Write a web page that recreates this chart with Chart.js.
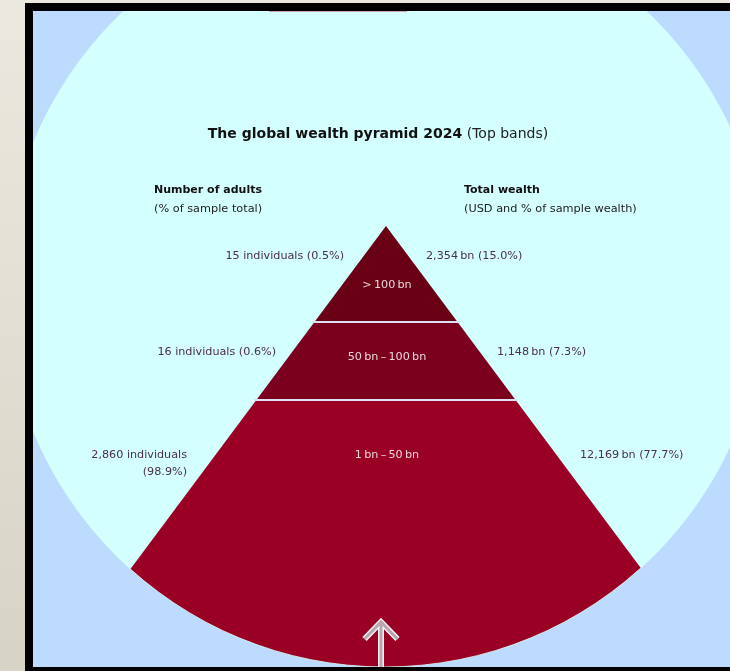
<!DOCTYPE html>
<html>
<head>
<meta charset="utf-8">
<title>The global wealth pyramid 2024</title>
<script src="https://cdn.jsdelivr.net/npm/chart.js@4.4.1/dist/chart.umd.min.js"></script>
<style>
  html, body { margin: 0; padding: 0; width: 730px; height: 671px; overflow: hidden; }
  body { background: linear-gradient(#ebe8df, #d7d4c6); position: relative; }
  #frame { position: absolute; left: 25px; top: 3px; width: 760px; height: 700px; background: #000; }
  #plot { position: absolute; left: 33px; top: 11px; width: 697px; height: 656px; background: #bddaff; }
  #rule { position: absolute; left: 269px; top: 11px; width: 138px; height: 1px; background: #c9a2b3; }
</style>
</head>
<body>
<div id="frame"></div>
<div id="plot"><canvas id="pyramid"></canvas></div>
<div id="rule"></div>
<script>
// Wealth bands, from the top of the pyramid down
const bands = ['>\u2009100\u2009bn', '50\u2009bn\u2009\u2013\u2009100\u2009bn', '1\u2009bn\u2009\u2013\u200950\u2009bn'];
// Number of adults in each band and share of the sample total (%)
const adults = [15, 16, 2860];
const adultShare = [0.5, 0.6, 98.9];
// Total wealth of each band (USD bn) and share of sample wealth (%)
const wealthBn = [2354, 1148, 12169];
const wealthShare = [15.0, 7.3, 77.7];

// Layout in plot units (1 unit = 1 px); apex at (0, 0), depth grows downward
const SLOPE = 0.745;                       // half-width per unit of depth
const BAND_EDGES = [0, 96, 174, 470];      // band boundaries (depth)
const BAND_COLORS = ['#690014', '#7b001d', '#990024'];
const DISC = { x: -1, y: 61, r: 380 };     // backdrop disc; also trims the lowest band
const ROW_Y = [30, 126, 229];              // side-label rows
const LEFT_END = [-42, -110, -199];        // right edge of the adult labels
const RIGHT_START = [40, 111, 194];        // left edge of the wealth labels
const BAND_LABEL = [{ x: 1, y: 59 }, { x: 1, y: 131 }, { x: 1, y: 229 }];

const FONT = '"DejaVu Sans", Verdana, sans-serif';
const TEXT = '#4b2f45';

const fmt = n => n.toLocaleString('en-US');

const bandSets = bands.map((name, i) => {
  const d0 = BAND_EDGES[i], d1 = BAND_EDGES[i + 1];
  return {
    label: name,
    data: [
      { x: -SLOPE * d0, y: d0 }, { x: SLOPE * d0, y: d0 },
      { x: SLOPE * d1, y: d1 }, { x: -SLOPE * d1, y: d1 },
      { x: -SLOPE * d0, y: d0 }
    ],
    backgroundColor: BAND_COLORS[i],
    borderColor: 'rgba(0,0,0,0)',
    borderWidth: 0,
    pointRadius: 0,
    fill: 'shape',
    tension: 0,
    order: 2
  };
});

const dividerSets = BAND_EDGES.slice(1, -1).map(d => ({
  label: 'divider',
  data: [{ x: -SLOPE * d - 2, y: d }, { x: SLOPE * d + 2, y: d }],
  borderColor: '#dde0f4',
  borderWidth: 2,
  pointRadius: 0,
  fill: false,
  order: 1
}));

function put(ctx, str, px, py, font, color, align) {
  ctx.font = font;
  ctx.fillStyle = color;
  ctx.textAlign = align;
  ctx.textBaseline = 'middle';
  ctx.fillText(str, px, py);
}

const decor = {
  id: 'decor',
  beforeDatasetsDraw(chart) {
    const { ctx, scales: { x, y } } = chart;
    const cx = x.getPixelForValue(DISC.x), cy = y.getPixelForValue(DISC.y);
    const r = x.getPixelForValue(DISC.x + DISC.r) - cx;
    ctx.save();
    ctx.beginPath();
    ctx.arc(cx, cy, r, 0, Math.PI * 2);
    ctx.fillStyle = '#d3ffff';
    ctx.fill();
    ctx.clip();
  },
  afterDatasetsDraw(chart) {
    const { ctx, scales: { x, y } } = chart;
    ctx.restore();
    const X = v => x.getPixelForValue(v), Y = v => y.getPixelForValue(v);

    // soft rim of the disc
    const cx = X(DISC.x), cy = Y(DISC.y), r = X(DISC.x + DISC.r) - cx;
    ctx.save();
    ctx.beginPath();
    ctx.arc(cx, cy, r, 0, Math.PI * 2);
    ctx.strokeStyle = 'rgba(215,255,255,0.8)';
    ctx.lineWidth = 1;
    ctx.stroke();
    ctx.restore();

    // upward arrow at the foot of the pyramid
    ctx.save();
    ctx.beginPath();
    ctx.moveTo(X(-21.5), Y(413));
    ctx.lineTo(X(-5), Y(396));
    ctx.lineTo(X(11.5), Y(413));
    ctx.moveTo(X(-5), Y(398));
    ctx.lineTo(X(-5), Y(460));
    ctx.lineJoin = 'miter';
    ctx.lineCap = 'butt';
    ctx.strokeStyle = '#f3f3f7';
    ctx.lineWidth = 6;
    ctx.stroke();
    ctx.strokeStyle = '#b9a5ae';
    ctx.lineWidth = 3;
    ctx.stroke();
    ctx.restore();

    ctx.save();
    // title: bold lead + plain note, centred together
    const lead = 'The global wealth pyramid 2024', note = ' (Top bands)';
    const fb = 'bold 14px ' + FONT, fn = '14px ' + FONT;
    ctx.font = fb; const wb = ctx.measureText(lead).width;
    ctx.font = fn; const wn = ctx.measureText(note).width;
    const tx = X(-8) - (wb + wn) / 2, ty = Y(-92);
    put(ctx, lead, tx, ty, fb, '#111', 'left');
    put(ctx, note, tx + wb, ty, fn, '#222', 'left');

    // column headers
    put(ctx, 'Number of adults', X(-232), Y(-36), 'bold 11px ' + FONT, '#111', 'left');
    put(ctx, '(% of sample total)', X(-232), Y(-17), '11.3px ' + FONT, '#222', 'left');
    put(ctx, 'Total wealth', X(78), Y(-36), 'bold 11px ' + FONT, '#111', 'left');
    put(ctx, '(USD and % of sample wealth)', X(78), Y(-17), '11.3px ' + FONT, '#222', 'left');

    // band labels and side values
    const lf = '11.2px ' + FONT;
    bands.forEach((name, i) => {
      put(ctx, name, X(BAND_LABEL[i].x), Y(BAND_LABEL[i].y), lf, '#ead6de', 'center');
      const count = fmt(adults[i]) + ' individuals';
      const share = '(' + adultShare[i].toFixed(1) + '%)';
      if (i === bands.length - 1) {
        put(ctx, count, X(LEFT_END[i]), Y(ROW_Y[i]), lf, TEXT, 'right');
        put(ctx, share, X(LEFT_END[i]), Y(ROW_Y[i] + 17), lf, TEXT, 'right');
      } else {
        put(ctx, count + ' ' + share, X(LEFT_END[i]), Y(ROW_Y[i]), lf, TEXT, 'right');
      }
      const wealth = fmt(wealthBn[i]) + '\u2009bn (' + wealthShare[i].toFixed(1) + '%)';
      put(ctx, wealth, X(RIGHT_START[i]), Y(ROW_Y[i]), lf, TEXT, 'left');
    });
    ctx.restore();
  }
};

new Chart(document.getElementById('pyramid'), {
  type: 'line',
  data: { datasets: [...dividerSets, ...bandSets] },
  options: {
    responsive: true,
    maintainAspectRatio: false,
    animation: false,
    events: [],
    layout: { padding: 0 },
    plugins: { legend: { display: false }, tooltip: { enabled: false }, title: { display: false } },
    scales: {
      x: { type: 'linear', min: -353, max: 344, display: false },
      y: { type: 'linear', min: -215, max: 441, reverse: true, display: false }
    }
  },
  plugins: [decor]
});
</script>
</body>
</html>
